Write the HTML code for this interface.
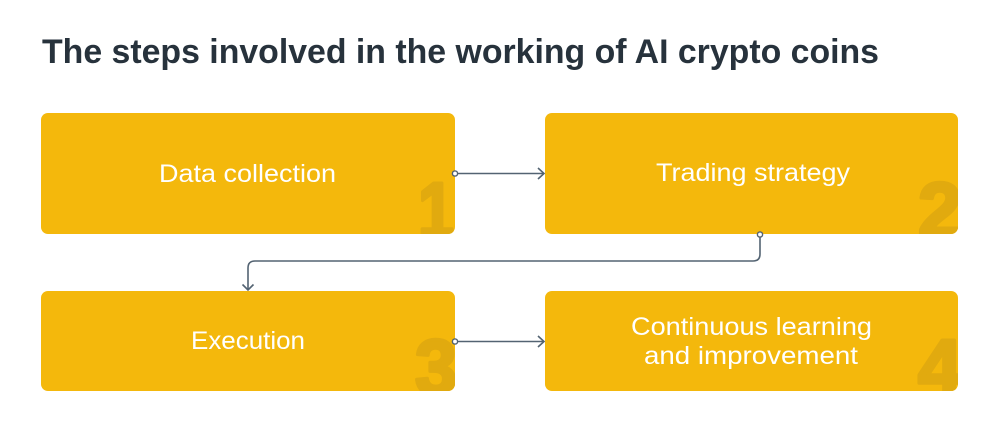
<!DOCTYPE html>
<html><head><meta charset="utf-8"><style>
html,body{margin:0;padding:0;background:#fff;}
svg{display:block;}
</style></head><body>
<svg width="1000" height="430" viewBox="0 0 1000 430" xmlns="http://www.w3.org/2000/svg">
<defs>
<clipPath id="c1"><rect x="41" y="113" width="414" height="121" rx="7"/></clipPath>
<clipPath id="c2"><rect x="545" y="113" width="413" height="121" rx="7"/></clipPath>
<clipPath id="c3"><rect x="41" y="291" width="414" height="100" rx="7"/></clipPath>
<clipPath id="c4"><rect x="545" y="291" width="413" height="100" rx="7"/></clipPath>
</defs>
<text x="42" y="63" font-family="Liberation Sans, sans-serif" font-weight="bold" font-size="34" fill="#27323c" textLength="837" lengthAdjust="spacingAndGlyphs">The steps involved in the working of AI crypto coins</text>

<rect x="41" y="113" width="414" height="121" rx="7" fill="#f4b80c"/>
<rect x="545" y="113" width="413" height="121" rx="7" fill="#f4b80c"/>
<rect x="41" y="291" width="414" height="100" rx="7" fill="#f4b80c"/>
<rect x="545" y="291" width="413" height="100" rx="7" fill="#f4b80c"/>

<g font-family="Liberation Sans, sans-serif" font-weight="bold" font-size="78" fill="#e1aa0f" stroke="#e1aa0f" stroke-width="3.5" stroke-linejoin="round">
<text x="418" y="237" clip-path="url(#c1)" textLength="36" lengthAdjust="spacingAndGlyphs">1</text>
<text x="918" y="237" clip-path="url(#c2)" textLength="44" lengthAdjust="spacingAndGlyphs">2</text>
<text x="415" y="394" clip-path="url(#c3)" textLength="42" lengthAdjust="spacingAndGlyphs">3</text>
<text x="918" y="394" clip-path="url(#c4)" textLength="44" lengthAdjust="spacingAndGlyphs">4</text>
</g>

<g font-family="Liberation Sans, sans-serif" font-size="25" fill="#ffffff">
<text x="159" y="182" textLength="177" lengthAdjust="spacingAndGlyphs">Data collection</text>
<text x="656" y="181" textLength="194" lengthAdjust="spacingAndGlyphs">Trading strategy</text>
<text x="191" y="349" textLength="114" lengthAdjust="spacingAndGlyphs">Execution</text>
<text x="631" y="335" textLength="241" lengthAdjust="spacingAndGlyphs">Continuous learning</text>
<text x="644" y="364" textLength="214" lengthAdjust="spacingAndGlyphs">and improvement</text>
</g>

<g stroke="#536372" stroke-width="1.6" fill="none">
<line x1="458" y1="173.5" x2="544" y2="173.5"/>
<polyline points="538,168 544,173.5 538,179"/>
<line x1="458" y1="341.5" x2="544" y2="341.5"/>
<polyline points="538,336 544,341.5 538,347"/>
<path d="M760,237 V254 Q760,261 753,261 H255 Q248,261 248,268 V290"/>
<polyline points="242.5,284.5 248,290 253.5,284.5"/>
</g>
<g stroke="#536372" stroke-width="1.4" fill="#ffffff">
<circle cx="455" cy="173.5" r="2.6"/>
<circle cx="455" cy="341.5" r="2.6"/>
<circle cx="760" cy="234.5" r="2.6"/>
</g>
</svg>
</body></html>
